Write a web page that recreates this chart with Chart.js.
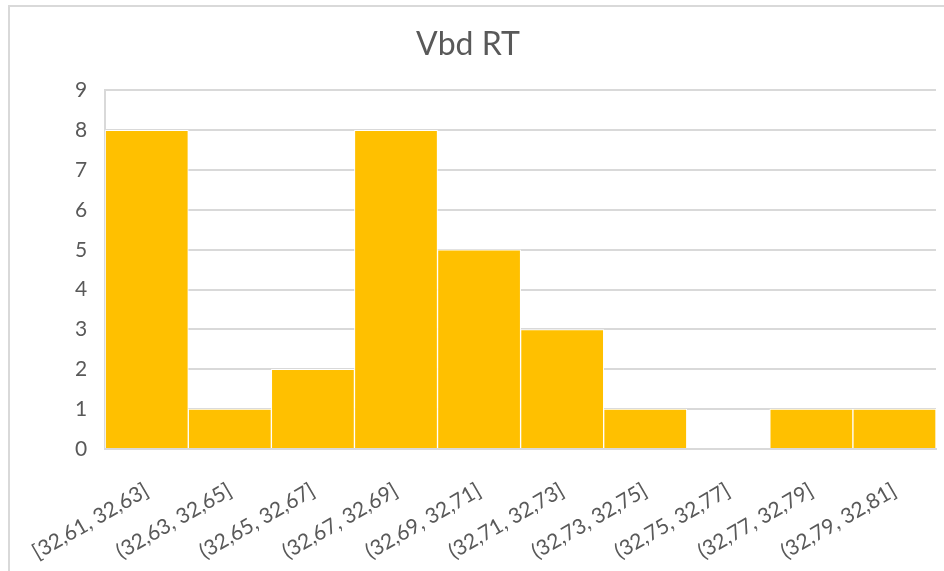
<!DOCTYPE html>
<html>
<head>
<meta charset="utf-8">
<script src="https://cdn.jsdelivr.net/npm/chart.js@4"></script>
<style>
html,body{margin:0;padding:0;background:#fff;}
#wrap{width:944px;height:571px;position:relative;}
</style>
</head>
<body>
<div id="wrap"><canvas id="histChart" width="944" height="571"></canvas></div>
<script>
/* DATA */
const chartTitle = 'Vbd RT';
const bins = ['[32,61, 32,63]','(32,63, 32,65]','(32,65, 32,67]','(32,67, 32,69]','(32,69, 32,71]',
  '(32,71, 32,73]','(32,73, 32,75]','(32,75, 32,77]','(32,77, 32,79]','(32,79, 32,81]'];
const counts = [8,1,2,8,5,3,1,0,1,1];
const yMax = 9;

const gridGrey = '#d9d9d9';
const textGrey = '#595959';

/* light frame like the excel chart area */
const framePlugin = {
  id:'frame',
  beforeDraw(chart){
    const c = chart.ctx;
    c.save();
    c.fillStyle = '#fff';
    c.fillRect(0,0,chart.width,chart.height);
    c.strokeStyle = gridGrey;
    c.lineWidth = 2;
    c.strokeRect(9,6,1000,1000);
    c.restore();
  }
};

new Chart(document.getElementById('histChart'), {
  type:'bar',
  data:{
    labels:bins,
    datasets:[{
      label:chartTitle,
      data:counts,
      backgroundColor:'#FFC000',
      borderColor:'#ffffff',
      borderWidth:1,
      categoryPercentage:1,
      barPercentage:1
    }]
  },
  options:{
    responsive:false,
    animation:false,
    layout:{padding:{left:0,right:8,top:0,bottom:0}},
    plugins:{
      legend:{display:false},
      tooltip:{enabled:false},
      title:{
        display:true,
        text:chartTitle,
        color:textGrey,
        font:{family:'Lato',size:32,weight:'normal'},
        padding:{top:25,bottom:27}
      }
    },
    scales:{
      x:{
        grid:{display:false,drawTicks:false},
        border:{display:true,color:gridGrey,width:2},
        ticks:{
          color:textGrey,
          font:{family:'Lato',size:21},
          minRotation:30,
          maxRotation:30,
          autoSkip:false,
          padding:29
        },
        afterFit(scale){ scale.height = 122; }
      },
      y:{
        min:0,
        max:yMax,
        grid:{color:gridGrey,lineWidth:2,drawTicks:false},
        border:{display:true,color:gridGrey,width:2},
        ticks:{
          stepSize:1,
          color:textGrey,
          font:{family:'Lato',size:21},
          padding:18
        },
        afterFit(scale){ scale.width = 104; }
      }
    }
  },
  plugins:[framePlugin]
});
</script>
</body>
</html>
